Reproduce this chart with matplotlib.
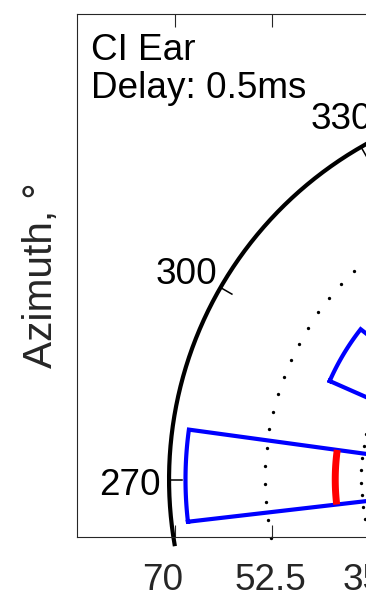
import numpy as np
import matplotlib
matplotlib.use("Agg")
import matplotlib.pyplot as plt

plt.rcParams['font.family'] = ['Liberation Sans', 'DejaVu Sans']

# ---- data ----
title_lines = ["CI Ear", "Delay: 0.5ms"]
radius_tick_labels = ["70", "52.5", "35"]
radius_label_pos = [-71.1, -51.5, -34.6]     # label centres on the x axis
radius_tick_pos = [-69.0, -51.3, -33.4]      # tick marks on the x axis
dotted_radii = [52.5, 35, 17.5]
outer_radius = 70
azimuth_ticks = [270, 300, 330]
azimuth_labels = ["270", "300", "330"]
wedge_az_low = [263.4, 293.8]
wedge_az_high = [277.8, 308.0]
wedge_r_outer = [67.0, 44.5]
wedge_r_inner = [25.0, 25.0]
red_az_low = [263.4]
red_az_high = [277.8]
red_radius = [39.7]

# ---- figure ----
W, H = 366, 593
fig = plt.figure(figsize=(W / 100, H / 100), dpi=100)
s = 5.485                      # px per data unit
cx_px, bottom_px, top_px, left_px = 553.0, 537.3, 14.0, 77.0
ax = fig.add_axes([left_px / W, (H - bottom_px) / H,
                   2 * (cx_px - left_px) / W, (bottom_px - top_px) / H])
xl = (left_px - cx_px) / s
ax.set_xlim(xl, -xl)
ax.set_ylim(-(bottom_px - 479.5) / s, (479.5 - top_px) / s)

FS = 26.6


def pol(r, az):
    a = np.deg2rad(np.asarray(az, dtype=float))
    return r * np.sin(a), r * np.cos(a)


# outer circle (solid) and tick marks / labels
th = np.linspace(260, 460, 400)
x, y = pol(outer_radius, th)
ax.plot(x, y, color='black', lw=3, clip_on=False, solid_capstyle='butt')
for az, lab in zip(azimuth_ticks, azimuth_labels):
    x0, y0 = pol(outer_radius, az)
    x1, y1 = pol(outer_radius - 2.4, az)
    ax.plot([x0, x1], [y0, y1], color='black', lw=1.1)
    xt, yt = pol(77.1, az)
    ax.annotate(lab, xy=(xt, yt), xytext=(0, -11.4), textcoords='offset points',
                ha='center', va='baseline', fontsize=FS, color='black')

# dotted circles (markers at evenly spaced azimuths)
grid_az = np.linspace(0, 360, 100)
grid_az = np.concatenate([grid_az[grid_az >= 258], grid_az[grid_az <= 102] + 360])
for r in dotted_radii:
    x, y = pol(r, grid_az)
    ax.plot(x, y, 'o', color='black', ms=2.4, mew=0, clip_on=False)

# wedges
for lo, hi, ro, ri in zip(wedge_az_low, wedge_az_high, wedge_r_outer, wedge_r_inner):
    a = np.linspace(lo, hi, 60)
    xo, yo = pol(ro, a)
    xi, yi = pol(ri, a[::-1])
    xs = np.concatenate([xo, xi, xo[:1]])
    ys = np.concatenate([yo, yi, yo[:1]])
    ax.plot(xs, ys, color='blue', lw=3, solid_joinstyle='miter')

# red arcs
for lo, hi, r in zip(red_az_low, red_az_high, red_radius):
    a = np.linspace(lo, hi, 60)
    x, y = pol(r, a)
    ax.plot(x, y, color='red', lw=5, solid_capstyle='butt')

# title text
ax.text(-84.2, 76.48, title_lines[0], fontsize=FS, color='black', va='baseline')
ax.text(-84.2, 69.55, title_lines[1], fontsize=FS, color='black', va='baseline')

# axes styling
axis_col = '#262626'
for sp in ax.spines.values():
    sp.set_color(axis_col)
    sp.set_linewidth(0.8)
ax.set_yticks([])
ax.set_xticks(radius_label_pos)
ax.set_xticklabels(radius_tick_labels)
ax.set_xticks(radius_tick_pos, minor=True)
ax.tick_params(axis='x', which='major', length=0, pad=18.7, labelsize=FS,
               labelcolor=axis_col)
ax.tick_params(axis='x', which='minor', direction='in', length=9, width=0.8,
               color=axis_col, top=True, bottom=True)
ax.set_ylabel("Azimuth, °", fontsize=FS * 1.1, color=axis_col, labelpad=12.5)

fig.savefig("out.png", dpi=100)
